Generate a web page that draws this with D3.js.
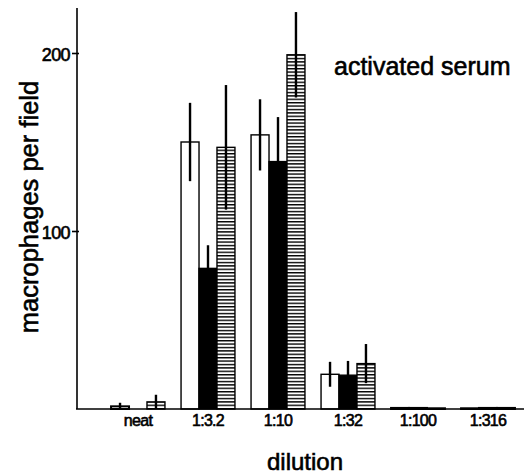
<!DOCTYPE html>
<html>
<head>
  <meta charset="utf-8">
  <script src="https://d3js.org/d3.v7.min.js"></script>
  <style>
    body { margin: 0; background: #fff; }
    text { font-family: "Liberation Sans", Arial, Helvetica, sans-serif; fill: #000; stroke: #000; stroke-width: 0.6px; }
  </style>
</head>
<body>
  <svg width="528" height="474"></svg>

  <script>
    // dilution groups and the three series
    var categories = ["neat", "1:3.2", "1:10", "1:32", "1:100", "1:316"];
    var series = ["open", "solid", "hatched"];
    var openValues = [1.5, 150, 154, 19.5, 0.6, 0.4];
    var solidValues = [0, 79, 139, 19, 0.6, 0.6];
    var hatchedValues = [4, 147, 199, 25.5, 0.4, 0.6];
    var openErrors = [2, 22, 20, 7, 0, 0];
    var solidErrors = [0, 13, 25, 8, 0, 0];
    var hatchedErrors = [4, 35, 24, 11, 0, 0];
    var yTicks = [100, 200];

    var svg = d3.select("svg");

    // hatch pattern: horizontal lines
    var defs = svg.append("defs");
    var pat = defs.append("pattern")
      .attr("id", "hlines")
      .attr("patternUnits", "userSpaceOnUse")
      .attr("width", 8)
      .attr("height", 3.4);
    pat.append("rect").attr("width", 8).attr("height", 3.4).attr("fill", "#fff");
    pat.append("rect").attr("y", 0).attr("width", 8).attr("height", 1.4).attr("fill", "#000");

    var x = d3.scaleBand()
      .domain(categories)
      .range([103, 523])
      .paddingInner(0.23)
      .paddingOuter(0.115);

    var xs = d3.scaleBand()
      .domain(series)
      .range([0, x.bandwidth()]);

    var y = d3.scaleLinear()
      .domain([0, 100])
      .range([409, 231]);

    var fills = { open: "#fff", solid: "#000", hatched: "url(#hlines)" };
    var valuesBy = { open: openValues, solid: solidValues, hatched: hatchedValues };
    var errorsBy = { open: openErrors, solid: solidErrors, hatched: hatchedErrors };

    var rows = [];
    categories.forEach(function(c, i) {
      series.forEach(function(s) {
        rows.push({ cat: c, s: s, v: valuesBy[s][i], e: errorsBy[s][i] });
      });
    });

    // bars
    svg.append("g").selectAll("rect")
      .data(rows.filter(d => d.v > 0))
      .enter()
      .append("rect")
      .attr("x", d => x(d.cat) + xs(d.s))
      .attr("y", d => y(d.v))
      .attr("width", xs.bandwidth())
      .attr("height", d => y(0) - y(d.v))
      .attr("fill", d => fills[d.s])
      .attr("stroke", "#000")
      .attr("stroke-width", d => d.v < 2 ? 2 : 1.4);

    // error bars
    svg.append("g").selectAll("line")
      .data(rows.filter(d => d.e > 0))
      .enter()
      .append("line")
      .attr("x1", d => x(d.cat) + xs(d.s) + xs.bandwidth() / 2)
      .attr("x2", d => x(d.cat) + xs(d.s) + xs.bandwidth() / 2)
      .attr("y1", d => y(d.v - d.e))
      .attr("y2", d => y(d.v + d.e))
      .attr("stroke", "#000")
      .attr("stroke-width", 2.4);

    // axes lines
    svg.append("line")
      .attr("x1", 77).attr("x2", 77)
      .attr("y1", 8).attr("y2", y(0))
      .attr("stroke", "#000").attr("stroke-width", 1.6);
    svg.append("line")
      .attr("x1", 76).attr("x2", 524)
      .attr("y1", y(0)).attr("y2", y(0))
      .attr("stroke", "#000").attr("stroke-width", 1.6);

    var yAxis = svg.append("g")
      .attr("transform", "translate(77,0)")
      .call(d3.axisLeft(y).tickValues(yTicks).tickSize(5).tickPadding(2));
    yAxis.select(".domain").remove();
    yAxis.selectAll(".tick line").attr("stroke-width", 1.6).attr("x2", 2).attr("x1", -5);
    yAxis.selectAll(".tick text")
      .attr("font-size", 18)
      .attr("font-family", "Liberation Sans, Arial, sans-serif")
      .attr("dy", "0.4em")
      .attr("letter-spacing", -0.6);

    // category labels
    svg.append("g").selectAll("text")
      .data(categories)
      .enter()
      .append("text")
      .attr("x", d => x(d) + x.bandwidth() / 2)
      .attr("y", 426)
      .attr("text-anchor", "middle")
      .attr("font-size", 16)
      .attr("letter-spacing", -0.7)
      .text(d => d);

    // axis titles
    svg.append("text")
      .attr("x", 305)
      .attr("y", 470)
      .attr("text-anchor", "middle")
      .attr("font-size", 24)
      .text("dilution");

    svg.append("text")
      .attr("transform", "translate(38,207) rotate(-90)")
      .attr("text-anchor", "middle")
      .attr("font-size", 25.5)
      .text("macrophages per field");

    svg.append("text")
      .attr("x", 334)
      .attr("y", 75)
      .attr("font-size", 25)
      .text("activated serum");
  </script>
</body>
</html>
